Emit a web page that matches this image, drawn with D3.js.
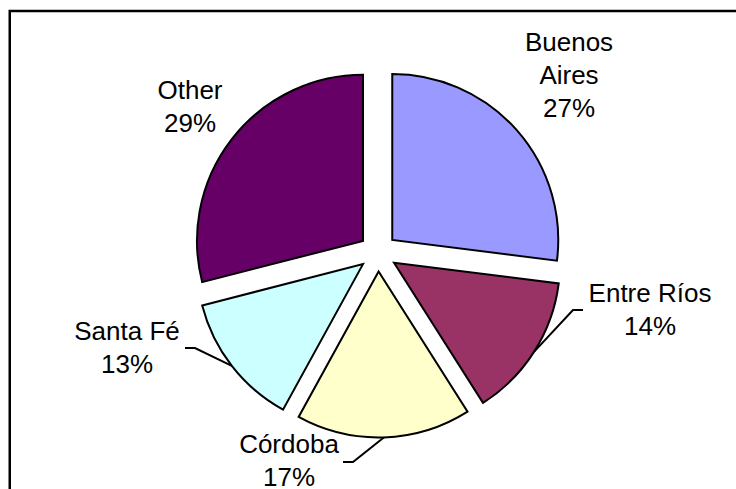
<!DOCTYPE html>
<html>
<head>
<meta charset="utf-8">
<script src="https://cdn.jsdelivr.net/npm/d3@7"></script>
<style>
  body { margin: 0; background: #fff; }
  svg { display: block; }
  text { font-family: "Liberation Sans", Arial, sans-serif; font-size: 26px; fill: #000; }
</style>
</head>
<body>
<script>
// data
var provinces = ["Buenos Aires", "Entre Ríos", "Córdoba", "Santa Fé", "Other"];
var shares = [27, 14, 17, 13, 29];
var sliceColors = ["#9999FF", "#993366", "#FFFFCC", "#CCFFFF", "#660066"];

var width = 736, height = 489,
    cx = 378, cy = 252.5,
    radius = 166,
    explode = 19,
    lineH = 33;

// label placement (centre x, first baseline) and leader elbows, per slice
var labelPos = [[569, 51], [650, 302], [289, 453], [127, 340], [190, 99]];
var labelWrap = [["Buenos", "Aires"], ["Entre Ríos"], ["Córdoba"], ["Santa Fé"], ["Other"]];
var leaderElbow = [null, [[583, 310], [573, 310]], [[343, 462], [353, 462]], [[185, 348], [195, 348]], null];

var svg = d3.select("body").append("svg")
    .attr("width", width)
    .attr("height", height);

// chart frame (runs off the right and bottom of the picture)
svg.append("rect")
    .attr("x", 9.75)
    .attr("y", 11)
    .attr("width", 900)
    .attr("height", 700)
    .attr("fill", "none")
    .attr("stroke", "#000")
    .attr("stroke-width", 2.5);

var pie = d3.pie().sort(null).value(function(d) { return d; });
var arcs = pie(shares);

var arc = d3.arc().innerRadius(0).outerRadius(radius);

function offset(d) {
  var a = (d.startAngle + d.endAngle) / 2;
  return [cx + explode * Math.sin(a), cy - explode * Math.cos(a)];
}

var g = svg.append("g");

g.selectAll("path.slice")
    .data(arcs)
  .enter().append("path")
    .attr("class", "slice")
    .attr("transform", function(d) { var o = offset(d); return "translate(" + o[0] + "," + o[1] + ")"; })
    .attr("d", arc)
    .attr("fill", function(d, i) { return sliceColors[i]; })
    .attr("stroke", "#000")
    .attr("stroke-width", 2)
    .attr("stroke-linejoin", "miter");

// leader lines
arcs.forEach(function(d, i) {
  if (!leaderElbow[i]) return;
  var o = offset(d), a = (d.startAngle + d.endAngle) / 2;
  var pts = leaderElbow[i].concat([[o[0] + radius * Math.sin(a), o[1] - radius * Math.cos(a)]]);
  svg.append("path")
      .attr("d", d3.line()(pts))
      .attr("fill", "none")
      .attr("stroke", "#000")
      .attr("stroke-width", 2);
});

// labels
var labels = svg.selectAll("text.label")
    .data(arcs)
  .enter().append("text")
    .attr("class", "label")
    .attr("text-anchor", "middle");

labels.each(function(d, i) {
  var t = d3.select(this);
  var lines = labelWrap[i].concat([shares[i] + "%"]);
  lines.forEach(function(s, j) {
    t.append("tspan")
        .attr("x", labelPos[i][0])
        .attr("y", labelPos[i][1] + j * lineH)
        .text(s);
  });
});
</script>
</body>
</html>
